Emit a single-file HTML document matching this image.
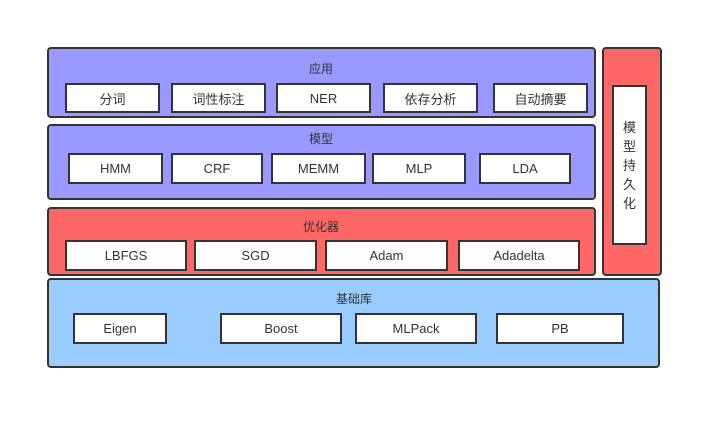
<!DOCTYPE html>
<html><head><meta charset="utf-8"><style>
body{margin:0;width:724px;height:429px;background:#fff;position:relative;font-family:"Liberation Sans","Noto Sans CJK SC",sans-serif;color:#333;overflow:hidden}
.c{position:absolute;border:2px solid #333;border-radius:4px;box-sizing:border-box}
.t{position:absolute;font-size:12px;text-align:center;transform:translateX(-50%);white-space:nowrap;line-height:14px}
.b{position:absolute;background:#fff;border:2px solid #333;box-sizing:border-box;font-size:13px;display:flex;align-items:center;justify-content:center}
</style></head><body>
<div class="c" style="left:47px;top:47px;width:549px;height:71px;background:#9999FF"></div>
<div class="t" style="left:321px;top:62px">应用</div>
<div class="b" style="left:65px;top:83px;width:95px;height:30px">分词</div>
<div class="b" style="left:171px;top:83px;width:95px;height:30px">词性标注</div>
<div class="b" style="left:276px;top:83px;width:95px;height:30px">NER</div>
<div class="b" style="left:383px;top:83px;width:95px;height:30px">依存分析</div>
<div class="b" style="left:493px;top:83px;width:95px;height:30px">自动摘要</div>

<div class="c" style="left:47px;top:124px;width:549px;height:76px;background:#9999FF"></div>
<div class="t" style="left:321px;top:132px">模型</div>
<div class="b" style="left:68px;top:153px;width:95px;height:31px">HMM</div>
<div class="b" style="left:171px;top:153px;width:92px;height:31px">CRF</div>
<div class="b" style="left:271px;top:153px;width:95px;height:31px">MEMM</div>
<div class="b" style="left:372px;top:153px;width:94px;height:31px">MLP</div>
<div class="b" style="left:479px;top:153px;width:92px;height:31px">LDA</div>

<div class="c" style="left:47px;top:207px;width:549px;height:69px;background:#FF6666"></div>
<div class="t" style="left:321px;top:220px">优化器</div>
<div class="b" style="left:65px;top:240px;width:122px;height:31px">LBFGS</div>
<div class="b" style="left:194px;top:240px;width:123px;height:31px">SGD</div>
<div class="b" style="left:325px;top:240px;width:123px;height:31px">Adam</div>
<div class="b" style="left:458px;top:240px;width:122px;height:31px">Adadelta</div>

<div class="c" style="left:602px;top:47px;width:60px;height:229px;background:#FF6666"></div>
<div class="b" style="left:612px;top:85px;width:35px;height:160px;font-size:13px;line-height:19px;text-align:center;flex-direction:column">模<br>型<br>持<br>久<br>化</div>

<div class="c" style="left:47px;top:278px;width:613px;height:90px;background:#99CCFF"></div>
<div class="t" style="left:354px;top:292px">基础库</div>
<div class="b" style="left:73px;top:313px;width:94px;height:31px">Eigen</div>
<div class="b" style="left:220px;top:313px;width:122px;height:31px">Boost</div>
<div class="b" style="left:355px;top:313px;width:122px;height:31px">MLPack</div>
<div class="b" style="left:496px;top:313px;width:128px;height:31px">PB</div>
</body></html>
